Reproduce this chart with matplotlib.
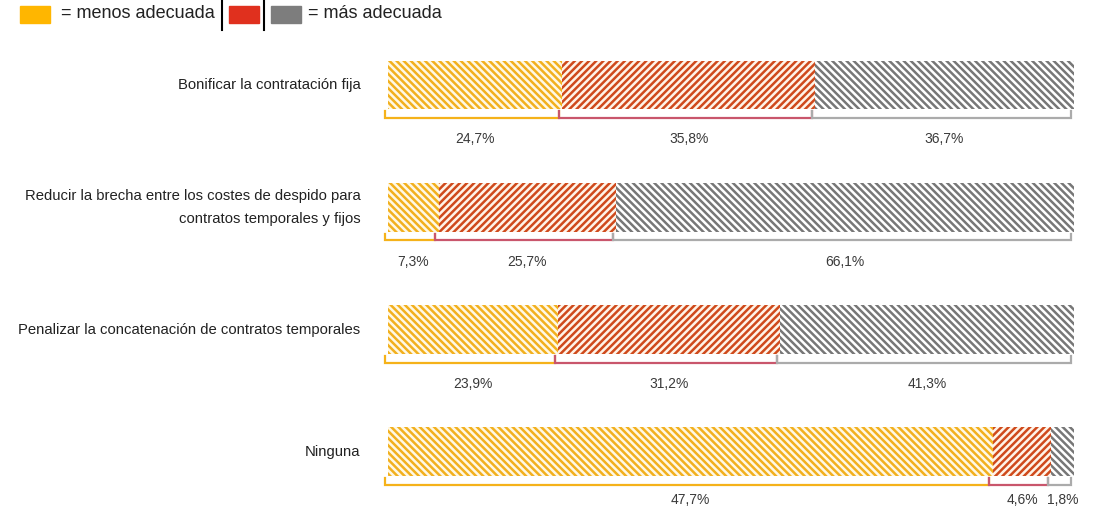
import numpy as np
import matplotlib
matplotlib.use("Agg")
import matplotlib.pyplot as plt
from matplotlib.patches import Rectangle
from matplotlib.lines import Line2D
from matplotlib.backend_bases import GraphicsContextBase

plt.rcParams['font.family'] = ['Liberation Sans', 'DejaVu Sans']
plt.rcParams['hatch.linewidth'] = 1.8
# rayado algo mas denso que el de serie
GraphicsContextBase.get_hatch_path.__defaults__ = (7.0,)

categorias = ['Bonificar la contratación fija',
              'Reducir la brecha entre los costes de despido para\ncontratos temporales y fijos',
              'Penalizar la concatenación de contratos temporales',
              'Ninguna']
menos = [24.7, 7.3, 23.9, 47.7]
medio = [35.8, 25.7, 31.2, 4.6]
mas = [36.7, 66.1, 41.3, 1.8]
etiquetas = [['24,7%', '35,8%', '36,7%'],
             ['7,3%', '25,7%', '66,1%'],
             ['23,9%', '31,2%', '41,3%'],
             ['47,7%', '4,6%', '1,8%']]

hatch_cols = ['#F2B01E', '#CF4A1C', '#777777']
face_cols = ['#FFF8E4', '#FFF4E8', '#FFFFFF']
hatches = ['\\\\\\\\', '////', '\\\\\\\\']
bracket_cols = ['#F5B21A', '#C9566C', '#ABABAB']
legend_cols = ['#FFB600', '#E0301E', '#7D7D7D']

W, H = 1096, 518
fig = plt.figure(figsize=(W / 100, H / 100), dpi=100)
ax = fig.add_axes([388 / W, 0, 686 / W, 1])
ax.set_xlim(0, 1)
ax.set_ylim(3.54, -0.695)
ax.axis('off')

vals = np.array([menos, medio, mas]).T
for i, fila in enumerate(vals):
    frac = fila / fila.sum()
    left = 0
    for j, f in enumerate(frac):
        ax.barh(i, f, left=left, height=0.4, color=face_cols[j],
                edgecolor=hatch_cols[j], hatch=hatches[j], linewidth=0)
        # corchete bajo cada tramo
        x0, x1 = left - 0.005, left + f - 0.005
        yb = i + 0.27
        ax.plot([x0, x0, x1, x1], [yb - 0.055, yb, yb, yb - 0.055],
                color=bracket_cols[j], lw=1.6, solid_joinstyle='miter',
                clip_on=False)
        ty = i + 0.445 if i < 3 else i + 0.395
        ax.text(left + f / 2, ty, etiquetas[i][j], ha='center', va='center',
                fontsize=10, color='#3a3a3a', clip_on=False)
        left += f
    ax.text(-0.04, i, categorias[i], ha='right', va='center', fontsize=10.7,
            color='#222222', linespacing=1.8)

# leyenda
def patch(x, col):
    fig.patches.append(Rectangle((x / W, 1 - 23 / H), 30 / W, 17 / H,
                                 transform=fig.transFigure, color=col))

patch(20, legend_cols[0])
fig.text(61 / W, 1 - 13 / H, '= menos adecuada', fontsize=13, va='center', color='#222222')
patch(229, legend_cols[1])
patch(271, legend_cols[2])
fig.text(308 / W, 1 - 13 / H, '= más adecuada', fontsize=13, va='center', color='#222222')
for x in [222, 264]:
    fig.lines.append(Line2D([x / W, x / W], [1 - 30 / H, 1], transform=fig.transFigure,
                            color='black', lw=1.5))

fig.savefig('out.png', dpi=100)
